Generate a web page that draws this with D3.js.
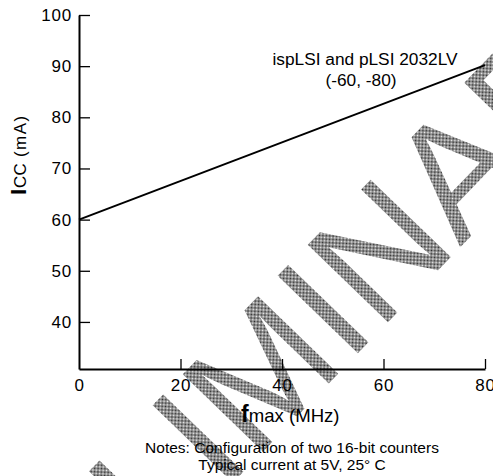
<!DOCTYPE html>
<html>
<head>
<meta charset="utf-8">
<script src="https://cdn.jsdelivr.net/npm/d3@7"></script>
<style>
  html, body { margin: 0; padding: 0; background: #fff; }
  svg { display: block; }
  text { font-family: "Liberation Sans", Arial, Helvetica, sans-serif; fill: #000; }
</style>
</head>
<body>
<svg id="chart" width="493" height="476"></svg>
<script>
// ---- data ----
const fmaxValues = [0, 80];          // MHz
const iccValues = [60, 90.2];        // mA
const xTickValues = [0, 20, 40, 60, 80];
const yTickValues = [40, 50, 60, 70, 80, 90, 100];
const seriesLabel = ["ispLSI and pLSI 2032LV", "(-60, -80)"];
const notes = ["Notes: Configuration of two 16-bit counters", "Typical current at 5V, 25\u00B0 C"];
const watermark = "PRELIMINARY";

// ---- layout ----
const svg = d3.select("#chart");
const x = d3.scaleLinear().domain([0, 80]).range([79, 485]);
const y = d3.scaleLinear().domain([30.8, 100]).range([369, 15]);

// halftone pattern for watermark
const defs = svg.append("defs");
const pat = defs.append("pattern").attr("id", "halftone")
  .attr("width", 2).attr("height", 2).attr("patternUnits", "userSpaceOnUse");
pat.append("rect").attr("width", 2).attr("height", 2).attr("fill", "#f2f2f2");
pat.append("rect").attr("width", 1).attr("height", 1).attr("fill", "#2a2a2a");
pat.append("rect").attr("x", 1).attr("y", 1).attr("width", 1).attr("height", 1).attr("fill", "#2a2a2a");

svg.append("text")
  .attr("transform", "translate(309,404) rotate(-46)")
  .attr("text-anchor", "middle")
  .style("font-size", "162px")
  .style("fill", "url(#halftone)")
  .text(watermark);

// axes
const yAxis = d3.axisLeft(y).tickValues(yTickValues).tickSizeInner(-11).tickSizeOuter(0).tickPadding(7);
const xAxis = d3.axisBottom(x).tickValues(xTickValues).tickSizeInner(-10).tickSizeOuter(0).tickPadding(10);

const gy = svg.append("g").attr("transform", `translate(${x(0)},0)`).call(yAxis);
const gx = svg.append("g").attr("transform", `translate(0,${y(30.8)})`).call(xAxis);

[gx, gy].forEach(g => {
  g.select(".domain").attr("stroke", "#000").attr("stroke-width", 2);
  g.selectAll(".tick line").attr("stroke", "#000").attr("stroke-width", 1.3);
  g.selectAll(".tick text")
    .attr("fill", "#000")
    .style("font-family", '"Liberation Sans", Arial, sans-serif')
    .style("font-size", "17px")
    .style("letter-spacing", "0.8px");
});
gx.selectAll(".tick").filter(d => d === 0).select("line").remove();

// series line
const line = d3.line().x((d, i) => x(fmaxValues[i])).y(d => y(d));
svg.append("path")
  .datum(iccValues)
  .attr("d", line)
  .attr("fill", "none")
  .attr("stroke", "#000")
  .attr("stroke-width", 2);

// series label
svg.append("text").attr("x", 365).attr("y", 65).attr("text-anchor", "middle")
  .style("font-size", "17.3px").text(seriesLabel[0]);
svg.append("text").attr("x", 361).attr("y", 86).attr("text-anchor", "middle")
  .style("font-size", "17.3px").text(seriesLabel[1]);

// y axis title
const yt = svg.append("text").attr("transform", "translate(26,195) rotate(-90)");
yt.append("tspan").style("font-weight", "bold").style("font-size", "22px").text("I");
yt.append("tspan").style("font-size", "17px").attr("dx", 1).text("CC");
yt.append("tspan").style("font-size", "17px").style("letter-spacing", "1.5px").text(" (mA)");

// x axis title
const xt = svg.append("text").attr("x", 241).attr("y", 422);
xt.append("tspan").style("font-weight", "bold").style("font-size", "23px").text("f");
xt.append("tspan").style("font-size", "18.6px").text("max (MHz)");

// notes
svg.append("text").attr("x", 292).attr("y", 452.5).attr("text-anchor", "middle")
  .style("font-size", "15.5px").text(notes[0]);
svg.append("text").attr("x", 292).attr("y", 470).attr("text-anchor", "middle")
  .style("font-size", "15.5px").text(notes[1]);
</script>
</body>
</html>
